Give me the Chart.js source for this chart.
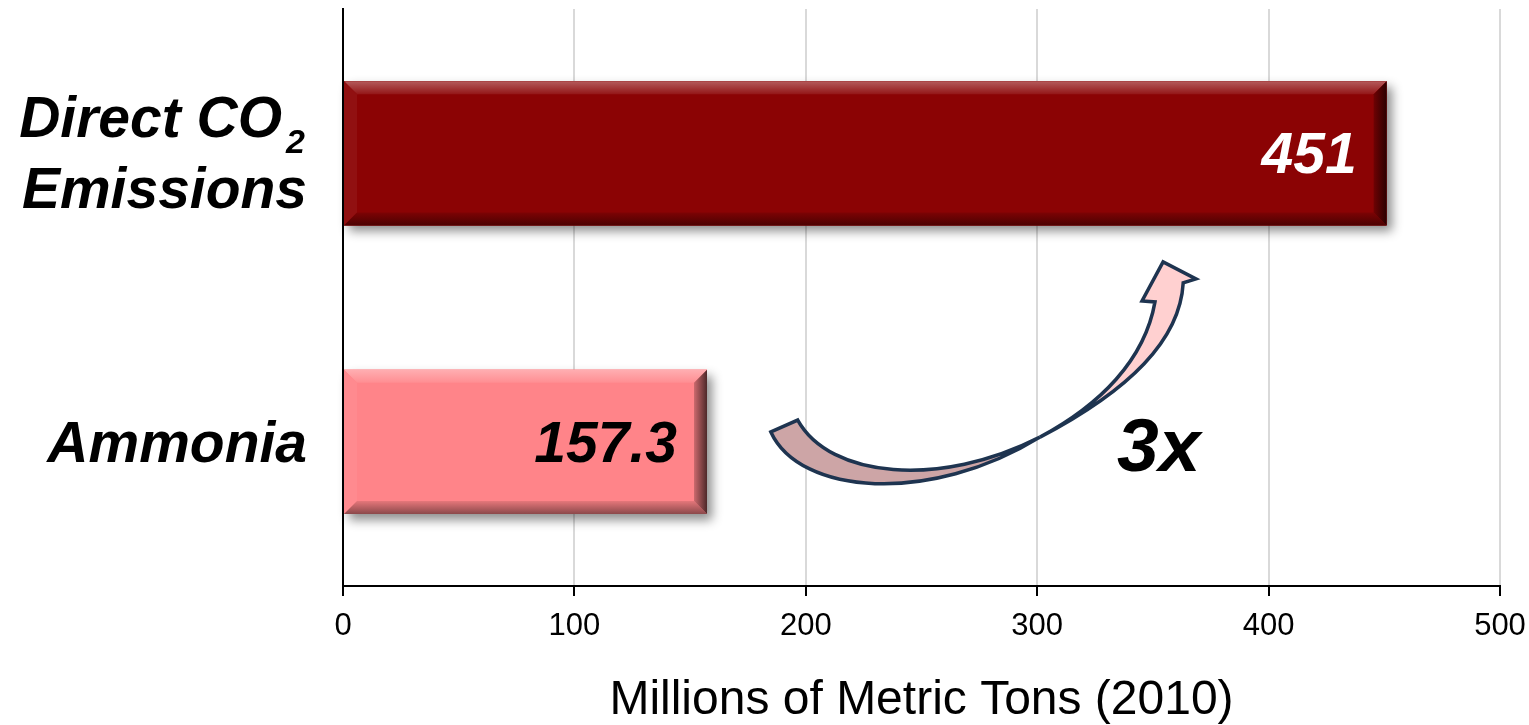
<!DOCTYPE html>
<html lang="en">
<head>
<meta charset="UTF-8">
<title>Direct CO2 Emissions vs Ammonia</title>
<script src="https://cdn.jsdelivr.net/npm/chart.js"></script>
<style>
  body { margin: 0; background: #fff; }
  #wrap { width: 1529px; height: 725px; }
</style>
</head>
<body>
<div id="wrap"><canvas id="myChart"></canvas></div>
<script>
// data
const categories = ['Direct CO₂ Emissions', 'Ammonia'];
const categoryLines = [['Direct CO₂', 'Emissions'], ['Ammonia']];
const values = [451, 157.3];
const valueLabels = ['451', '157.3'];
const barColors = ['#8B0304', '#FF8489'];
const valueLabelColors = ['#ffffff', '#000000'];
const xTicks = [0, 100, 200, 300, 400, 500];
const axisTitle = 'Millions of Metric Tons (2010)';
const ratioLabel = '3x';
const ratioLabelAt = [334.5, 1.1];   // [value, category index]

// curved arrow outline in axis units: [value, category index]
const arrowTail = [[184.9, 0.966], [197.4, 1.185], [253.6, 1.219], [301.2, 0.984],
                   [257.9, 1.161], [210.4, 1.126], [196.5, 0.925]];
const arrowHead = [[301.2, 0.984], [327.1, 0.8725], [346.5, 0.7164], [350.9, 0.5152],
                   [345.3, 0.5117], [354.4, 0.3764], [368.6, 0.4354], [363.1, 0.4493],
                   [361.7, 0.647], [340.1, 0.8205], [301.2, 0.984]];

const FONT = '"Liberation Sans", Arial, sans-serif';

function mix(hex, target, t) {
    const n = parseInt(hex.slice(1), 16);
    const r = n >> 16, g = (n >> 8) & 255, b = n & 255;
    const c = target === 'white' ? 255 : 0;
    return 'rgb(' + Math.round(r + (c - r) * t) + ',' + Math.round(g + (c - g) * t) + ',' + Math.round(b + (c - b) * t) + ')';
}

function barBox(el) {
    const p = el.getProps(['x', 'y', 'base', 'height'], true);
    return { l: Math.min(p.x, p.base), r: Math.max(p.x, p.base), t: p.y - p.height / 2, b: p.y + p.height / 2, cy: p.y };
}

const bevelPlugin = {
    id: 'bevel',
    beforeDatasetsDraw(chart) {
        const ctx = chart.ctx;
        chart.getDatasetMeta(0).data.forEach((el, i) => {
            const bx = barBox(el);
            ctx.save();
            ctx.shadowColor = 'rgba(0,0,0,0.45)';
            ctx.shadowBlur = 10;
            ctx.shadowOffsetX = 5;
            ctx.shadowOffsetY = 6;
            ctx.fillStyle = barColors[i];
            ctx.fillRect(bx.l, bx.t, bx.r - bx.l, bx.b - bx.t);
            ctx.restore();
        });
    },
    afterDatasetsDraw(chart) {
        const ctx = chart.ctx;
        const bw = 13;
        chart.getDatasetMeta(0).data.forEach((el, i) => {
            const c = barColors[i];
            const { l, r, t, b, cy } = barBox(el);
            ctx.save();
            // top
            let g = ctx.createLinearGradient(0, t, 0, t + bw);
            g.addColorStop(0, mix(c, 'white', 0.35));
            g.addColorStop(1, mix(c, 'white', 0.08));
            ctx.fillStyle = g;
            ctx.beginPath();
            ctx.moveTo(l, t); ctx.lineTo(r, t); ctx.lineTo(r - bw, t + bw); ctx.lineTo(l + bw, t + bw);
            ctx.closePath(); ctx.fill();
            // left
            ctx.fillStyle = mix(c, 'white', 0.05);
            ctx.beginPath();
            ctx.moveTo(l, t); ctx.lineTo(l + bw, t + bw); ctx.lineTo(l + bw, b - bw); ctx.lineTo(l, b);
            ctx.closePath(); ctx.fill();
            // bottom
            g = ctx.createLinearGradient(0, b - bw, 0, b);
            g.addColorStop(0, mix(c, 'black', 0.1));
            g.addColorStop(1, mix(c, 'black', 0.45));
            ctx.fillStyle = g;
            ctx.beginPath();
            ctx.moveTo(l, b); ctx.lineTo(l + bw, b - bw); ctx.lineTo(r - bw, b - bw); ctx.lineTo(r, b);
            ctx.closePath(); ctx.fill();
            // right
            g = ctx.createLinearGradient(r - bw, 0, r, 0);
            g.addColorStop(0, mix(c, 'black', 0.2));
            g.addColorStop(1, mix(c, 'black', 0.7));
            ctx.fillStyle = g;
            ctx.beginPath();
            ctx.moveTo(r, t); ctx.lineTo(r, b); ctx.lineTo(r - bw, b - bw); ctx.lineTo(r - bw, t + bw);
            ctx.closePath(); ctx.fill();

            // value label
            ctx.font = 'bold italic 57px ' + FONT;
            ctx.fillStyle = valueLabelColors[i];
            ctx.textAlign = 'right';
            ctx.textBaseline = 'alphabetic';
            ctx.fillText(valueLabels[i], r - 30, cy + 20);
            ctx.restore();
        });

        // curved arrow
        const xs = chart.scales.x, ys = chart.scales.y;
        const P = (q) => [xs.getPixelForValue(q[0]), ys.getPixelForValue(q[1])];
        const tail = arrowTail.map(P), head = arrowHead.map(P);
        ctx.save();
        ctx.lineWidth = 3.5;
        ctx.strokeStyle = '#1E3450';
        ctx.lineJoin = 'miter';
        ctx.beginPath();
        ctx.moveTo(...tail[0]);
        ctx.bezierCurveTo(...tail[1], ...tail[2], ...tail[3]);
        ctx.bezierCurveTo(...tail[4], ...tail[5], ...tail[6]);
        ctx.closePath();
        ctx.fillStyle = '#CDA5A6';
        ctx.fill(); ctx.stroke();
        ctx.beginPath();
        ctx.moveTo(...head[0]);
        ctx.bezierCurveTo(...head[1], ...head[2], ...head[3]);
        ctx.lineTo(...head[4]); ctx.lineTo(...head[5]); ctx.lineTo(...head[6]); ctx.lineTo(...head[7]);
        ctx.bezierCurveTo(...head[8], ...head[9], ...head[10]);
        ctx.closePath();
        ctx.fillStyle = '#FFD0D0';
        ctx.fill(); ctx.stroke();

        // 3x
        const lp = P(ratioLabelAt);
        ctx.font = 'bold italic 75px ' + FONT;
        ctx.fillStyle = '#000';
        ctx.textAlign = 'left';
        ctx.textBaseline = 'alphabetic';
        ctx.fillText(ratioLabel, lp[0], lp[1]);
        ctx.restore();
    }
};

// category labels (bold italic, CO2 with subscript) and x tick labels
const labelPlugin = {
    id: 'labels',
    afterDraw(chart) {
        const ctx = chart.ctx;
        const ys = chart.scales.y, xs = chart.scales.x;
        const rightX = chart.chartArea.left - 36;
        ctx.save();
        ctx.fillStyle = '#000';
        ctx.textBaseline = 'alphabetic';
        ctx.textAlign = 'right';
        categoryLines.forEach((lines, i) => {
            const cy = ys.getPixelForValue(i);
            const n = lines.length;
            lines.forEach((line, j) => {
                const base = cy + 20.5 - (n - 1) * 37 + j * 71;
                let main = line, rx = rightX;
                if (line.includes('₂')) {
                    main = line.replace('₂', '');
                    ctx.font = 'bold italic 34px ' + FONT;
                    ctx.fillText('2', rx - 2, base + 16);
                    rx -= 2 + ctx.measureText('2').width + 4;
                }
                ctx.font = 'bold italic 57px ' + FONT;
                ctx.fillText(main, rx, base);
            });
        });
        // x tick labels
        ctx.textAlign = 'center';
        ctx.font = '31px ' + FONT;
        xTicks.forEach(v => {
            ctx.fillText(String(v), xs.getPixelForValue(v), chart.chartArea.bottom + 49);
        });
        ctx.restore();
    }
};

const config = {
    type: 'bar',
    data: {
        labels: categories,
        datasets: [{
            data: values,
            backgroundColor: barColors,
            borderWidth: 0,
            categoryPercentage: 1.0,
            barPercentage: 0.5
        }]
    },
    options: {
        indexAxis: 'y',
        responsive: true,
        maintainAspectRatio: false,
        animation: false,
        layout: { padding: { left: 343, right: 29, top: 9, bottom: 0 } },
        plugins: { legend: { display: false }, tooltip: { enabled: false } },
        scales: {
            x: {
                min: xTicks[0],
                max: xTicks[xTicks.length - 1],
                afterBuildTicks: (scale) => { scale.ticks = xTicks.map(v => ({ value: v })); },
                grid: {
                    color: (c) => (c.tick && c.tick.value === 0) ? 'rgba(0,0,0,0)' : '#D9D9D9',
                    lineWidth: 2,
                    tickColor: '#000',
                    tickLength: 10,
                    tickWidth: 2
                },
                border: { color: '#000', width: 2 },
                ticks: { display: false },
                title: {
                    display: true,
                    text: axisTitle,
                    color: '#000',
                    font: { family: FONT, size: 48, lineHeight: 1.0 },
                    padding: { top: 81, bottom: 0 }
                }
            },
            y: {
                grid: { display: false, drawTicks: false },
                border: { color: '#000', width: 2 },
                ticks: { display: false }
            }
        }
    },
    plugins: [bevelPlugin, labelPlugin]
};

const ctx = document.getElementById('myChart').getContext('2d');
const myChart = new Chart(ctx, config);
</script>
</body>
</html>
